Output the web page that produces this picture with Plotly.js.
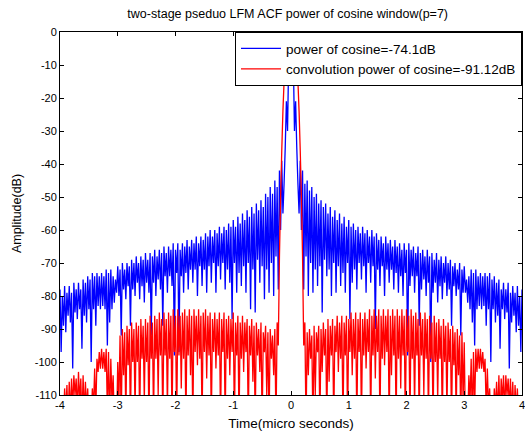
<!DOCTYPE html>
<html>
<head>
<meta charset="utf-8">
<script src="https://cdn.plot.ly/plotly-3.0.1.min.js"></script>
<style>html,body{margin:0;padding:0;background:#fff;}#chart{width:525px;height:439px;}</style>
</head>
<body>
<div id="chart"></div>
<script>
// time axis: start and step (micro seconds)
const tStart = -4;
const tStep = 0.02;

const seriesNames = ["power of cosine=-74.1dB", "convolution power of cosine=-91.12dB"];
const xTicks = [-4, -3, -2, -1, 0, 1, 2, 3, 4];
const yTicks = [0, -10, -20, -30, -40, -50, -60, -70, -80, -90, -100, -110];

// power of cosine (dB), x = -4 ... 4 step 0.02
const powerOfCosine = [
  -78,-97,-80,-89,-77,-91,-79,-86,-77,-88,
  -79,-102,-76,-85,-78,-87,-76,-84,-78,-96,
  -75,-86,-76,-88,-74,-84,-75,-100,-73,-84,
  -74,-89,-73,-83,-74,-84,-73,-83,-74,-84,
  -72,-95,-73,-88,-72,-84,-74,-82,-75,-79,
  -71,-80,-72,-92,-70,-78,-72,-81,-70,-77,
  -71,-89,-69,-78,-70,-80,-68,-76,-70,-81,
  -68,-77,-69,-82,-67,-76,-69,-79,-67,-92,
  -68,-76,-66,-80,-68,-75,-66,-78,-67,-89,
  -65,-74,-67,-79,-65,-74,-66,-77,-64,-98,
  -66,-73,-64,-97,-66,-74,-64,-79,-65,-73,
  -63,-78,-65,-72,-63,-76,-64,-72,-62,-80,
  -64,-71,-62,-77,-63,-72,-61,-79,-62,-71,
  -60,-76,-62,-70,-60,-79,-61,-71,-59,-75,
  -61,-70,-59,-78,-60,-72,-58,-76,-59,-87,
  -57,-70,-59,-79,-56,-73,-58,-77,-55,-71,
  -57,-79,-54,-70,-56,-84,-53,-72,-55,-85,
  -52,-69,-54,-76,-51,-71,-53,-81,-49,-72,
  -50,-79,-47,-70,-49,-80,-45,-68,-47,-78,
  -42,-60,-39,-55,-46,-35,-21,-30,-8,-2,
  0,
  -2,-8,-30,-21,-35,-46,-55,-39,-60,-42,
  -78,-46,-68,-45,-80,-48,-70,-47,-79,-50,
  -72,-49,-77,-52,-71,-51,-85,-53,-69,-52,
  -74,-55,-72,-53,-80,-56,-70,-54,-79,-57,
  -71,-55,-77,-58,-73,-56,-79,-59,-70,-57,
  -87,-59,-76,-58,-72,-60,-78,-59,-70,-61,
  -75,-59,-71,-61,-79,-60,-70,-62,-76,-60,
  -71,-62,-90,-61,-72,-63,-77,-62,-71,-64,
  -80,-62,-72,-64,-76,-63,-72,-65,-78,-63,
  -73,-65,-79,-64,-74,-66,-80,-64,-73,-66,
  -98,-64,-77,-66,-74,-65,-79,-67,-74,-65,
  -89,-67,-78,-66,-75,-68,-80,-66,-76,-68,
  -100,-67,-79,-69,-76,-67,-82,-69,-77,-68,
  -81,-70,-76,-68,-80,-70,-78,-69,-89,-71,
  -77,-70,-80,-72,-78,-70,-92,-72,-79,-71,
  -79,-75,-82,-74,-84,-72,-88,-73,-95,-72,
  -84,-74,-83,-73,-84,-74,-83,-73,-89,-74,
  -84,-73,-100,-75,-84,-74,-88,-76,-86,-75,
  -96,-78,-84,-76,-87,-78,-85,-76,-102,-79,
  -88,-77,-86,-79,-91,-77,-89,-80,-97,-78
];

// convolution power of cosine (dB), x = -4 ... 4 step 0.02
const convolutionPowerOfCosine = [
  -120,-120,-112,-118,-108,-115,-107,-118,-106,-116,
  -105,-114,-104,-110,-105,-115,-103,-112,-105,-118,
  -104,-116,-106,-114,-108,-120,-112,-120,-108,-114,
  -102,-115,-99,-103,-97,-102,-96,-102,-97,-103,
  -96,-115,-97,-118,-99,-112,-104,-118,-110,-120,
  -100,-112,-92,-120,-90,-104,-91,-118,-89,-101,
  -90,-120,-88,-100,-90,-116,-88,-100,-89,-120,
  -87,-99,-89,-112,-87,-100,-88,-120,-86,-99,
  -88,-118,-86,-99,-87,-110,-85,-98,-87,-120,
  -85,-98,-87,-115,-85,-99,-86,-120,-84,-97,
  -86,-120,-84,-98,-86,-108,-85,-99,-84,-120,
  -86,-98,-84,-104,-86,-120,-84,-97,-86,-101,
  -84,-99,-86,-120,-85,-97,-84,-105,-86,-98,
  -85,-120,-87,-97,-85,-102,-87,-98,-85,-120,
  -87,-97,-85,-120,-87,-99,-86,-104,-87,-97,
  -85,-120,-88,-98,-86,-120,-88,-99,-86,-103,
  -88,-97,-87,-120,-89,-98,-87,-106,-89,-120,
  -88,-98,-90,-103,-88,-120,-91,-97,-89,-110,
  -91,-120,-90,-99,-92,-104,-90,-120,-88,-95,
  -68,-50,-36,-24,-15,-9,-5,-3,-1.5,-0.5,
  0,
  -0.5,-1.5,-3,-5,-9,-15,-24,-36,-50,-68,
  -95,-88,-120,-91,-104,-90,-99,-92,-120,-89,
  -110,-91,-97,-89,-120,-90,-103,-88,-98,-90,
  -120,-87,-106,-89,-98,-87,-120,-89,-97,-86,
  -103,-88,-99,-86,-120,-88,-98,-86,-120,-87,
  -97,-85,-104,-87,-99,-85,-120,-87,-97,-85,
  -120,-87,-98,-85,-102,-87,-97,-84,-120,-86,
  -98,-84,-105,-86,-97,-84,-120,-86,-99,-84,
  -101,-86,-97,-84,-120,-86,-104,-84,-98,-86,
  -120,-84,-99,-86,-108,-84,-98,-86,-120,-84,
  -97,-86,-120,-84,-99,-86,-115,-85,-98,-87,
  -120,-85,-98,-87,-110,-85,-99,-87,-118,-86,
  -99,-88,-120,-86,-100,-88,-112,-87,-99,-89,
  -120,-87,-100,-89,-116,-88,-100,-90,-120,-89,
  -101,-91,-118,-90,-104,-92,-120,-91,-112,-94,
  -120,-110,-118,-104,-112,-99,-118,-97,-115,-96,
  -103,-96,-102,-96,-102,-97,-103,-99,-115,-102,
  -114,-108,-120,-112,-120,-108,-114,-106,-116,-104,
  -118,-105,-112,-104,-115,-104,-110,-105,-114,-105,
  -116,-106,-118,-107,-115,-108,-118,-112,-120,-120
];

const fam = "Arial, 'Liberation Sans', sans-serif";
const font = {family: fam, size: 11, color: "#000"};

const traces = [
  {type: "scatter", mode: "lines", name: seriesNames[0], x0: tStart, dx: tStep,
   y: powerOfCosine, line: {color: "#0000ff", width: 1.3, simplify: false}},
  {type: "scatter", mode: "lines", name: seriesNames[1], x0: tStart, dx: tStep,
   y: convolutionPowerOfCosine, line: {color: "#ff0000", width: 1.3, simplify: false}}
];

const axisCommon = {
  showline: true, linecolor: "#000", linewidth: 1, mirror: "allticks",
  ticks: "inside", ticklen: 4, tickwidth: 1, tickcolor: "#000",
  showgrid: false, zeroline: false, tickfont: font, ticklabeloverflow: "allow"
};

const layout = {
  width: 525, height: 439,
  margin: {l: 60, r: 3, t: 32, b: 44},
  paper_bgcolor: "#fff", plot_bgcolor: "#fff",
  font: font,
  showlegend: true,
  title: {text: "two-stage pseduo LFM ACF power of cosine window(p=7)",
          font: {family: fam, size: 12.5, color: "#000"},
          x: 0.548, xanchor: "center", y: 0.97, yanchor: "middle"},
  xaxis: Object.assign({}, axisCommon, {
    range: [-4, 4], tickvals: xTicks, ticktext: xTicks.map(String),
    title: {text: "Time(micro seconds)", font: {family: fam, size: 13.5, color: "#000"}, standoff: 8}
  }),
  yaxis: Object.assign({}, axisCommon, {
    range: [-110, 0], tickvals: yTicks, ticktext: yTicks.map(String),
    title: {text: "Amplitude(dB)", font: {family: fam, size: 12.5, color: "#000"}, standoff: 10}
  }),
  legend: {x: 1, xanchor: "right", y: 1, yanchor: "top",
           bgcolor: "#fff", bordercolor: "#000", borderwidth: 1,
           font: {family: fam, size: 13.5, color: "#000"},
           tracegroupgap: 0, itemwidth: 40}
};

Plotly.newPlot("chart", traces, layout, {displayModeBar: false, staticPlot: true});
</script>
</body>
</html>
